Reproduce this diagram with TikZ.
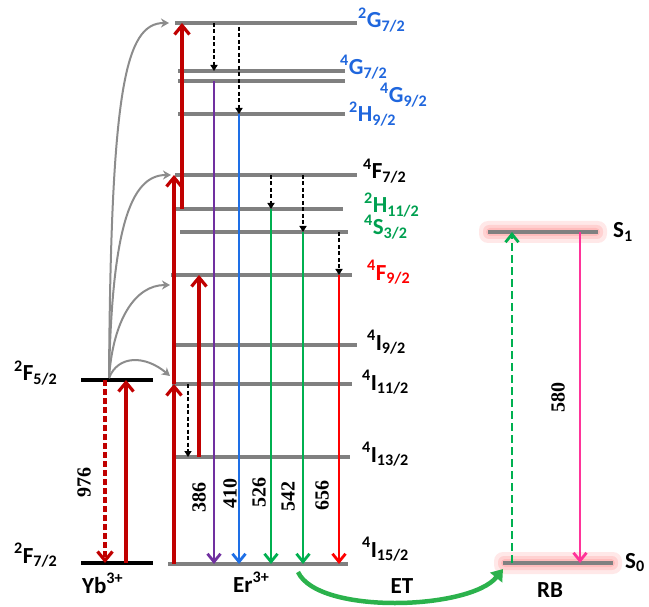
\documentclass[tikz,border=0pt]{standalone}
\usepackage{fontspec}
\setmainfont{Carlito}[BoldFont={Carlito Bold}]
\newfontfamily\numfont{Liberation Serif}[BoldFont={Liberation Serif Bold}]
\usetikzlibrary{arrows.meta,calc}
\definecolor{lvgray}{HTML}{808080}
\definecolor{excred}{HTML}{C00000}
\definecolor{emred}{HTML}{FF0000}
\definecolor{empur}{HTML}{7030A0}
\definecolor{emblue}{HTML}{1E6FE6}
\definecolor{emgreen}{HTML}{00B050}
\definecolor{lbblue}{HTML}{1F66DD}
\definecolor{lbgreen}{HTML}{00A050}
\definecolor{rbpink}{HTML}{FF3399}
\definecolor{etgreen}{HTML}{2BB24C}
\definecolor{curvgray}{HTML}{8C8C8C}
\newcommand{\lv}[3]{\textsuperscript{#1}#2\textsubscript{#3}}

\begin{document}
\begin{tikzpicture}[x=1pt,y=-1pt,font=\bfseries\fontsize{23}{23}\selectfont,
  lvl/.style={line width=3.2pt,lvgray},
  ybl/.style={line width=3.2pt,black},
  exc/.style={line width=3.2pt,excred,-{Straight Barb[length=9pt,width=15pt]}},
  emi/.style={line width=2.8pt,-{Straight Barb[length=8pt,width=13pt]}},
  nrd/.style={line width=1.5pt,black,dash pattern=on 4pt off 2.5pt,-{Triangle[length=6pt,width=7pt]}},
  curv/.style={line width=2pt,curvgray,-{Stealth[length=8pt,width=9pt,inset=2.5pt]}},
  lab/.style={anchor=base west,inner sep=0pt},
  num/.style={font=\numfont\bfseries\fontsize{20}{20}\selectfont,rotate=90,inner sep=0pt}]
\useasboundingbox (0,0) rectangle (649,607);
% Yb3+ levels
\draw[ybl] (81,380) coordinate (F52) -- (153,380);
\draw[ybl] (81,563) coordinate (F72) -- (153,563);
\coordinate (yb) at (109,378);
% Er3+ levels
\foreach \n/\y/\xa/\xb in {G72/23/175/357, GA/71/178/345, GB/81/178/345, H92/114/178/345,
    F47/175/175/357, H112/209/176/343, S32/232/180/348, F92/275/171/352,
    I92/345/176/357, I112/384/172/352, I132/457/172/350, I152/564/168/348}
  \draw[lvl] (\xa,\y) coordinate (\n) -- (\xb,\y);
% RB levels (with glow)
\foreach \n/\y/\xa/\xb in {S1/232/488/598, S0/563/503/613} {
  \fill[red!45,opacity=.2,rounded corners=9pt] (\xa-9,\y-11) rectangle (\xb+9,\y+11);
  \fill[red!45,opacity=.25,rounded corners=6pt] (\xa-5,\y-7) rectangle (\xb+5,\y+7);
  \fill[red!45,opacity=.3,rounded corners=4pt] (\xa-2,\y-4) rectangle (\xb+2,\y+4);
  \draw[lvl] (\xa,\y) coordinate (\n) -- (\xb,\y);
}
% labels
\node[lab] (tF52) at (14,381) {\lv{2}{F}{5/2}};
\node[lab] (tF72) at (14,563) {\lv{2}{F}{7/2}};
\node[lab] (tYb) at (82,593) {Yb\textsuperscript{3+}};
\node[lab] (tEr) at (233,592) {Er\textsuperscript{3+}};
\node[lab,lbblue] (tG72) at (358,28) {\lv{2}{G}{7/2}};
\node[lab,lbblue] (tGA) at (340,75) {\lv{4}{G}{7/2}};
\node[lab,lbblue] (tGB) at (380,103) {\lv{4}{G}{9/2}};
\node[lab,lbblue] (tH92) at (349,122) {\lv{2}{H}{9/2}};
\node[lab] (tF47) at (363,179) {\lv{4}{F}{7/2}};
\node[lab,lbgreen] (tH112) at (364,213) {\lv{2}{H}{11/2}};
\node[lab,lbgreen] (tS32) at (364,235) {\lv{4}{S}{3/2}};
\node[lab,emred] (tF92) at (367,280) {\lv{4}{F}{9/2}};
\node[lab] (tI92) at (367,350) {\lv{4}{I}{9/2}};
\node[lab] (tI112) at (362,390) {\lv{4}{I}{11/2}};
\node[lab] (tI132) at (362,462) {\lv{4}{I}{13/2}};
\node[lab] (tI152) at (362,557) {\lv{4}{I}{15/2}};
\node[lab] (tS1) at (613,238) {S\textsubscript{1}};
\node[lab] (tS0) at (625,568) {S\textsubscript{0}};
\node[anchor=base] (tET) at (402,593) {ET};
\node[anchor=base] (tRB) at (550,597) {RB};
% Yb3+ absorption / transfer
\draw[exc,dash pattern=on 6pt off 3pt] (105,0 |- F52) -- (105,0 |- F72);
\draw[exc] (126,0 |- F72) -- (126,0 |- F52);
\draw[curv] (yb) .. controls (111,90) and (125,23) .. ($(G72)+(-6,0)$);
\draw[curv] (yb) .. controls (112,230) and (130,175) .. ($(F47)+(-4,0)$);
\draw[curv] (yb) .. controls (113,320) and (135,285) .. (170,285);
\draw[curv] (yb) .. controls (118,355) and (145,355) .. (170,376);
% Er3+ excitation
\draw[exc] (174,0 |- I152) -- (174,0 |- I112);
\draw[exc] (174,0 |- I112) -- (174,0 |- F47);
\draw[exc] (182,0 |- H112) -- (182,0 |- G72);
\draw[exc] (199,0 |- I132) -- (199,0 |- F92);
% non-radiative
\draw[nrd] (188,0 |- I112) -- (188,0 |- I132);
\draw[nrd] (214,0 |- G72) -- (214,0 |- GA);
\draw[nrd] (239,27) -- (239,0 |- H92);
\draw[nrd] (271,0 |- F47) -- (271,0 |- H112);
\draw[nrd] (303,0 |- F47) -- (303,0 |- S32);
\draw[nrd] (339,0 |- S32) -- (339,0 |- F92);
% emissions
\draw[emi,empur] (214,0 |- GB) -- (214,0 |- I152);
\draw[emi,emblue] (239,0 |- H92) -- (239,0 |- I152);
\draw[emi,emgreen] (271,0 |- H112) -- (271,0 |- I152);
\draw[emi,emgreen] (303,0 |- S32) -- (303,0 |- I152);
\draw[emi,emred] (339,0 |- F92) -- (339,0 |- I152);
\node[num] (n976) at (84,482) {976};
\node[num] (n386) at (199,497) {386};
\node[num] (n410) at (230,493) {410};
\node[num] (n526) at (259,492) {526};
\node[num] (n542) at (288,496) {542};
\node[num] (n656) at (322,495) {656};
% energy transfer to RB
\draw[line width=4.5pt,etgreen,-{Triangle[length=11pt,width=15pt]}] (298,572) .. controls (318,615) and (470,610) .. ($(S0)+(0,6)$);
\draw[emi,emgreen,dash pattern=on 8pt off 4pt] (512,0 |- S0) -- (512,0 |- S1);
\draw[emi,rbpink] (580,0 |- S1) -- (580,0 |- S0);
\node[num] (n580) at (558,397) {580};
\end{tikzpicture}
\end{document}
